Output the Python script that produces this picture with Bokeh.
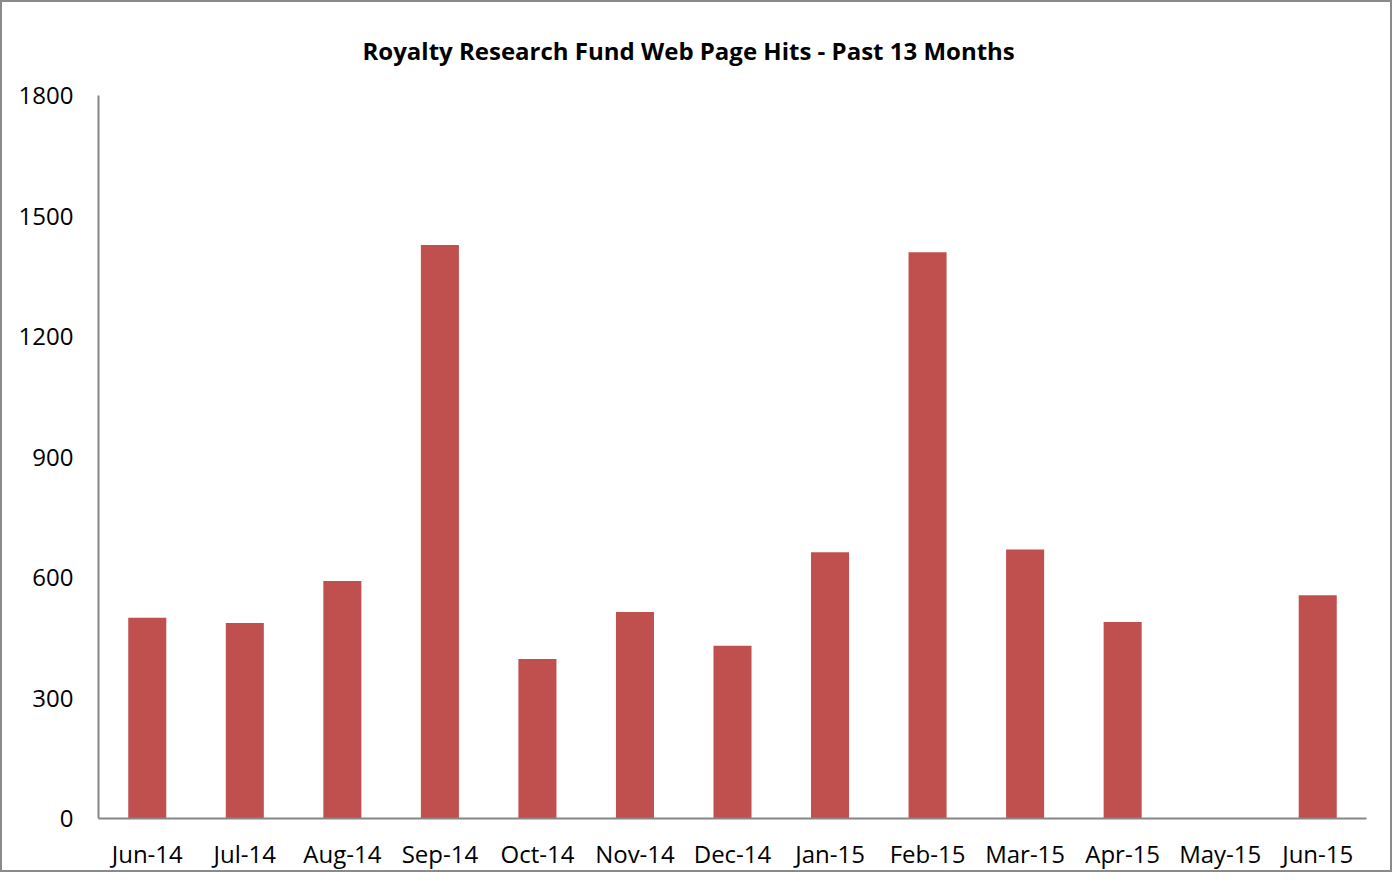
from bokeh.plotting import figure
from bokeh.models import ColumnDataSource, Range1d, FixedTicker, Title
from bokeh.embed import file_html
from bokeh.resources import INLINE

months = ["Jun-14", "Jul-14", "Aug-14", "Sep-14", "Oct-14", "Nov-14", "Dec-14",
          "Jan-15", "Feb-15", "Mar-15", "Apr-15", "May-15", "Jun-15"]
hits = [500, 487, 591, 1428, 397, 514, 430, 663, 1410, 670, 489, 0, 556]
y_ticks = [0, 300, 600, 900, 1200, 1500, 1800]

FONT = "Open Sans"
src = ColumnDataSource(dict(month=months, hits=hits))

p = figure(x_range=months, y_range=Range1d(0, 1800), width=1392, height=872,
           output_backend="svg", toolbar_location=None,
           min_border_left=96, min_border_right=28, min_border_top=89, min_border_bottom=56)
p.title = Title(text="Royalty Research Fund Web Page Hits - Past 13 Months",
                align="left", text_font=FONT, text_font_size="24px",
                text_font_style="bold", text_color="#000000", offset=264, standoff=58)
p.vbar(x="month", top="hits", width=0.39, source=src, fill_color="#C0504D", line_color=None)

p.xgrid.visible = False
p.ygrid.visible = False
p.outline_line_color = None
p.x_range.range_padding = 0

for ax in (p.xaxis[0], p.yaxis[0]):
    ax.axis_line_color = "#868686"
    ax.axis_line_width = 2
    ax.major_tick_line_color = None
    ax.minor_tick_line_color = None
    ax.major_label_text_font = FONT
    ax.major_label_text_font_size = "24px"
    ax.major_label_text_color = "#000000"
p.yaxis[0].ticker = FixedTicker(ticks=y_ticks)
p.yaxis[0].major_label_standoff = 19
p.xaxis[0].major_label_standoff = 12
p.styles = {"border": "2px solid #8a8a8a"}

open("out.html", "w").write(file_html(p, INLINE))
